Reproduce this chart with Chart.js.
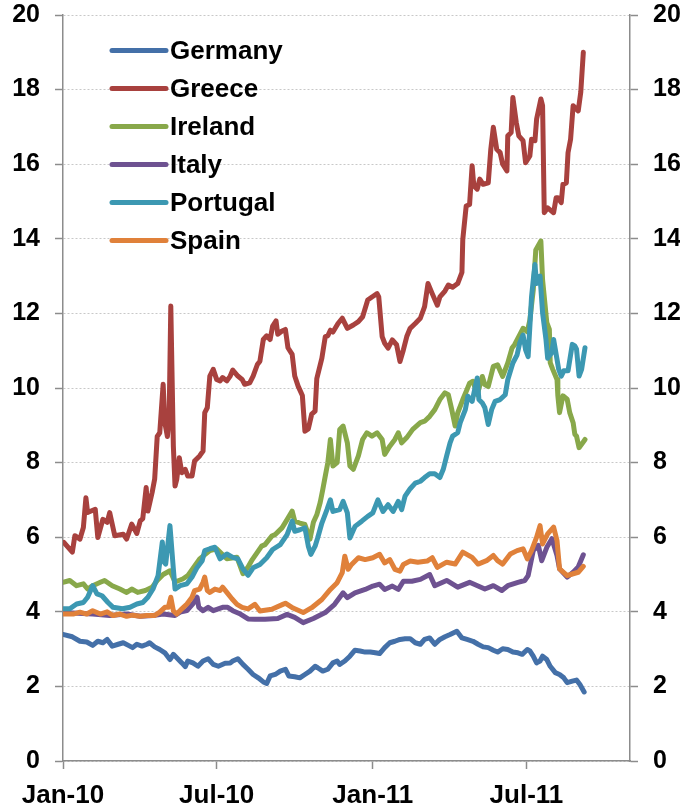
<!DOCTYPE html>
<html><head><meta charset="utf-8">
<script src="https://cdn.jsdelivr.net/npm/chart.js@4"></script>
<style>html,body{margin:0;padding:0;background:#fff}#wrap{width:680px;height:808px;position:relative}</style>
</head><body><div id="wrap"><canvas id="c" width="680" height="808"></canvas></div>
<script>
// x values are days since 1 Jan 2010
const seriesNames = ['Germany','Greece','Ireland','Italy','Portugal','Spain'];
const seriesColors = ['#4470a8','#a8413e','#88a84a','#6e5291','#3c98b2','#e0813a'];
const tickDays = [0,181,365,546];
const tickLabels = ['Jan-10','Jul-10','Jan-11','Jul-11'];

const germany = [[1,3.39],[11,3.33],[20,3.21],[28,3.19],[35,3.1],[41,3.21],[47,3.17],[52,3.26],[58,3.08],[65,3.13],[71,3.17],[77,3.1],[82,3.04],[87,3.13],[93,3.08],[99,3.13],[102,3.17],[108,3.06],[114,2.99],[120,2.9],[126,2.72],[130,2.86],[134,2.77],[140,2.63],[144,2.53],[147,2.68],[153,2.63],[159,2.54],[165,2.68],[171,2.74],[177,2.59],[183,2.54],[191,2.62],[197,2.63],[200,2.68],[206,2.74],[212,2.59],[218,2.46],[224,2.32],[230,2.23],[236,2.12],[240,2.08],[244,2.28],[250,2.32],[256,2.41],[262,2.46],[266,2.28],[273,2.26],[279,2.23],[285,2.32],[291,2.41],[297,2.54],[300,2.5],[306,2.41],[312,2.46],[318,2.63],[323,2.68],[326,2.59],[332,2.68],[338,2.81],[344,2.97],[350,2.95],[356,2.92],[362,2.92],[368,2.9],[373,2.88],[379,3.04],[385,3.17],[391,3.21],[397,3.26],[403,3.28],[409,3.28],[415,3.17],[421,3.13],[426,3.26],[432,3.3],[438,3.13],[444,3.26],[450,3.33],[456,3.39],[464,3.48],[470,3.3],[476,3.26],[483,3.21],[489,3.13],[495,3.06],[501,3.04],[507,2.97],[512,2.92],[518,3.01],[524,2.99],[530,2.92],[536,2.9],[541,2.86],[547,2.99],[550,2.95],[554,2.81],[558,2.63],[562,2.68],[565,2.81],[570,2.72],[574,2.54],[580,2.37],[585,2.32],[590,2.23],[594,2.1],[600,2.14],[605,2.17],[609,2.05],[614,1.85]];

const greece = [[1,5.86],[11,5.6],[14,6.04],[20,5.95],[24,6.26],[27,7.06],[29,6.66],[38,6.75],[41,5.99],[47,6.48],[52,6.4],[55,6.66],[61,6.04],[71,6.08],[75,5.95],[81,6.35],[87,6.1],[91,6.44],[94,6.5],[98,7.33],[100,6.7],[105,7.2],[108,7.56],[111,8.7],[114,8.8],[118,10.1],[120,9.07],[123,8.7],[125,9.16],[127,12.2],[130,8.45],[132,7.37],[134,7.55],[137,8.13],[140,7.73],[144,7.82],[147,7.64],[152,7.64],[155,8.04],[161,8.18],[165,8.31],[167,9.34],[170,9.47],[173,10.32],[177,10.5],[181,10.23],[185,10.19],[188,10.28],[193,10.19],[197,10.32],[200,10.48],[206,10.32],[211,10.23],[214,10.1],[220,10.14],[224,10.32],[229,10.63],[232,10.72],[236,11.3],[240,11.4],[244,11.3],[247,11.66],[251,11.8],[253,11.44],[258,11.53],[262,11.57],[265,11.08],[270,10.9],[273,10.32],[277,10.05],[282,9.8],[285,8.84],[289,8.9],[293,9.3],[297,9.38],[299,10.25],[305,10.8],[309,11.38],[312,11.4],[315,11.55],[318,11.5],[324,11.73],[329,11.87],[335,11.6],[342,11.69],[348,11.78],[353,11.91],[359,12.36],[364,12.44],[370,12.53],[372,12.44],[376,11.38],[379,11.2],[383,11.07],[388,11.29],[393,11.16],[397,10.71],[401,11.02],[405,11.38],[409,11.6],[415,11.73],[421,11.87],[426,12.18],[430,12.8],[435,12.53],[441,12.22],[444,12.44],[450,12.6],[454,12.76],[459,12.7],[465,12.8],[470,13.1],[471,13.98],[475,14.88],[479,14.92],[482,15.96],[484,15.42],[488,15.33],[491,15.6],[495,15.46],[501,15.5],[504,16.4],[507,16.99],[511,16.4],[515,16.31],[518,16.0],[523,15.82],[524,16.76],[528,16.85],[530,17.79],[534,17.12],[537,16.76],[542,16.63],[545,16.04],[550,16.22],[552,16.67],[556,16.63],[558,17.21],[563,17.75],[565,17.57],[567,14.7],[571,14.83],[578,14.7],[581,15.1],[583,15.1],[587,14.97],[589,15.46],[593,15.5],[595,16.31],[598,16.67],[601,17.57],[603,17.52],[607,17.43],[610,17.93],[613,19.0]];

const ireland = [[0,4.79],[8,4.84],[16,4.7],[24,4.75],[29,4.61],[35,4.7],[44,4.79],[49,4.84],[58,4.7],[67,4.61],[75,4.52],[81,4.61],[88,4.52],[97,4.57],[105,4.66],[111,4.84],[118,5.0],[126,5.1],[132,4.8],[141,4.88],[147,4.97],[161,5.42],[173,5.64],[181,5.69],[193,5.42],[205,5.46],[212,5.02],[218,5.2],[223,5.4],[234,5.76],[238,5.8],[246,6.03],[250,6.07],[258,6.25],[264,6.47],[270,6.7],[273,6.43],[279,6.38],[285,6.34],[291,5.95],[295,6.4],[299,6.6],[303,6.93],[306,7.27],[309,7.64],[312,8.0],[315,8.62],[318,7.91],[323,8.0],[326,8.89],[330,8.98],[335,8.53],[338,7.91],[342,7.82],[348,8.18],[353,8.62],[358,8.8],[364,8.71],[370,8.8],[376,8.62],[379,8.22],[385,8.44],[391,8.62],[395,8.8],[399,8.53],[405,8.67],[412,8.89],[421,9.07],[426,9.11],[432,9.24],[438,9.42],[444,9.69],[450,9.87],[454,9.82],[458,9.42],[462,8.98],[465,9.33],[471,9.69],[476,9.96],[479,10.13],[483,10.18],[488,9.82],[494,10.31],[497,10.09],[501,10.04],[507,10.58],[512,10.62],[518,10.31],[524,10.67],[529,11.07],[532,11.16],[538,11.42],[542,11.6],[547,11.51],[550,11.82],[554,12.62],[557,13.7],[563,13.94],[565,12.9],[570,11.75],[573,11.57],[574,10.68],[577,10.5],[582,10.23],[583,9.79],[585,9.34],[589,9.79],[594,9.7],[597,9.34],[601,9.07],[603,8.76],[605,8.71],[608,8.4],[611,8.49],[615,8.62]];

const italy = [[0,3.98],[35,3.94],[55,3.9],[75,3.94],[91,3.88],[106,3.9],[118,3.94],[132,3.9],[138,3.99],[146,4.03],[153,4.21],[158,4.39],[160,4.12],[165,4.03],[171,4.12],[177,4.03],[183,4.08],[188,4.12],[194,4.12],[200,4.03],[209,3.94],[218,3.81],[226,3.8],[238,3.8],[253,3.82],[264,3.93],[273,3.85],[283,3.71],[295,3.82],[309,3.98],[320,4.2],[330,4.51],[335,4.38],[344,4.51],[356,4.6],[365,4.69],[373,4.74],[379,4.6],[388,4.69],[395,4.6],[401,4.82],[411,4.82],[421,4.87],[432,5.0],[438,4.7],[452,4.84],[465,4.66],[479,4.79],[497,4.61],[507,4.7],[517,4.57],[524,4.7],[536,4.79],[544,4.84],[548,4.97],[554,5.64],[560,5.78],[564,5.37],[570,5.73],[576,5.96],[582,5.51],[585,5.15],[594,4.93],[601,5.06],[607,5.2],[613,5.53]];

const portugal = [[0,4.08],[8,4.08],[16,4.21],[24,4.25],[29,4.39],[35,4.7],[40,4.48],[46,4.43],[53,4.25],[59,4.12],[70,4.08],[79,4.12],[87,4.21],[94,4.25],[100,4.39],[106,4.61],[112,4.97],[117,5.87],[119,5.33],[121,5.28],[126,6.31],[130,5.15],[132,4.61],[138,4.7],[146,4.75],[152,4.93],[158,5.19],[164,5.37],[167,5.64],[173,5.69],[179,5.73],[185,5.42],[193,5.55],[200,5.46],[206,5.42],[212,5.15],[218,4.98],[224,5.18],[232,5.27],[240,5.45],[247,5.67],[256,5.8],[264,6.07],[270,6.43],[273,6.16],[279,6.2],[285,6.25],[289,5.76],[292,5.54],[297,5.76],[300,5.98],[305,6.38],[311,6.74],[315,7.0],[318,6.69],[326,6.74],[330,6.96],[335,6.65],[338,5.98],[344,6.29],[352,6.43],[359,6.56],[365,6.65],[371,7.0],[377,6.69],[383,6.87],[389,6.69],[395,6.96],[399,6.74],[403,7.1],[409,7.3],[415,7.45],[421,7.5],[426,7.6],[432,7.7],[438,7.7],[444,7.6],[448,7.82],[452,8.18],[456,8.53],[459,8.71],[465,8.8],[468,9.07],[474,9.42],[477,9.78],[482,9.64],[485,9.96],[488,10.27],[490,9.69],[494,9.6],[497,9.47],[501,9.02],[505,9.42],[509,9.64],[515,9.69],[521,9.82],[524,10.22],[530,10.67],[535,10.89],[538,11.2],[542,11.42],[545,11.02],[548,10.84],[552,12.44],[554,12.89],[556,13.31],[558,12.8],[562,13.0],[565,12.02],[569,11.3],[571,10.8],[576,10.95],[578,11.3],[582,10.77],[584,10.5],[587,10.32],[590,10.46],[595,10.46],[600,11.17],[603,11.13],[605,11.04],[608,10.32],[611,10.5],[615,11.08]];

const spain = [[0,3.94],[12,3.94],[20,3.99],[28,3.94],[35,4.03],[44,3.94],[52,4.0],[59,3.9],[67,3.94],[75,3.88],[82,3.91],[91,3.88],[99,3.9],[108,3.9],[114,3.99],[120,4.12],[124,4.12],[127,4.39],[130,4.03],[134,3.94],[140,4.08],[146,4.21],[152,4.39],[155,4.57],[161,4.61],[165,4.79],[167,4.93],[170,4.57],[173,4.52],[179,4.61],[185,4.57],[188,4.66],[193,4.52],[199,4.35],[205,4.2],[211,4.12],[218,4.08],[226,4.2],[232,4.02],[246,4.07],[259,4.2],[262,4.23],[271,4.1],[283,3.98],[293,4.11],[305,4.33],[315,4.6],[323,4.78],[329,5.05],[332,5.49],[336,5.14],[340,5.27],[348,5.45],[356,5.4],[365,5.45],[373,5.54],[379,5.31],[385,5.4],[391,5.14],[397,5.09],[401,5.27],[409,5.36],[418,5.33],[429,5.36],[435,5.45],[441,5.19],[452,5.33],[462,5.28],[471,5.6],[482,5.46],[489,5.28],[499,5.37],[507,5.51],[512,5.37],[518,5.28],[527,5.55],[535,5.64],[542,5.69],[547,5.42],[552,5.64],[558,6.0],[562,6.31],[565,5.82],[571,6.09],[578,6.27],[582,5.91],[585,5.15],[594,4.97],[601,5.02],[607,5.06],[613,5.22]];

const seriesData = [germany, greece, ireland, italy, portugal, spain];

const FONT = '"Liberation Sans", Arial, sans-serif';
const AXIS = '#8c8c8c';

const insideLegend = {
  id: 'insideLegend',
  afterDraw(chart) {
    const ctx = chart.ctx, a = chart.chartArea;
    ctx.save();
    chart.data.datasets.forEach((ds, i) => {
      const y = a.top + 35.5 + i * 38;
      ctx.strokeStyle = ds.borderColor;
      ctx.lineWidth = 5;
      ctx.lineCap = 'round';
      ctx.beginPath();
      ctx.moveTo(a.left + 49, y);
      ctx.lineTo(a.left + 103, y);
      ctx.stroke();
      ctx.fillStyle = '#000';
      ctx.font = 'bold 26px ' + FONT;
      ctx.textBaseline = 'middle';
      ctx.textAlign = 'left';
      ctx.fillText(ds.label, a.left + 107, y + 1);
    });
    ctx.restore();
  }
};

const yFont = { family: FONT, size: 25, weight: 'bold' };
const xFont = { family: FONT, size: 26, weight: 'bold' };

new Chart(document.getElementById('c'), {
  type: 'line',
  data: {
    datasets: seriesNames.map((name, i) => ({
      label: name,
      data: seriesData[i].map(p => ({ x: p[0], y: p[1] })),
      borderColor: seriesColors[i],
      backgroundColor: seriesColors[i],
      borderWidth: 5,
      borderJoinStyle: 'round',
      borderCapStyle: 'round',
      pointRadius: 0,
      tension: 0,
      fill: false,
      order: seriesNames.length - i
    }))
  },
  options: {
    responsive: false,
    animation: false,
    devicePixelRatio: 1,
    layout: { padding: { top: 15, left: 0, right: 0, bottom: 0 } },
    plugins: { legend: { display: false }, tooltip: { enabled: false } },
    scales: {
      x: {
        type: 'linear', min: 0, max: 668,
        afterBuildTicks(s) { s.ticks = tickDays.map(v => ({ value: v })); },
        ticks: {
          autoSkip: false, maxRotation: 0, minRotation: 0, color: '#000', font: xFont, padding: 11,
          callback: (v) => { const k = tickDays.indexOf(v); return k >= 0 ? tickLabels[k] : ''; }
        },
        grid: { drawOnChartArea: false, drawTicks: true, tickLength: 8, tickColor: AXIS, tickWidth: 1.5 },
        border: { color: AXIS, width: 1.5 },
        afterFit(s) { s.height = 47; s.paddingLeft = 0; s.paddingRight = 0; }
      },
      y: {
        position: 'left', min: 0, max: 20,
        ticks: { stepSize: 2, color: '#000', font: yFont, padding: 15 },
        grid: { color: '#c8c8c8', lineWidth: 1, tickLength: 8, tickColor: AXIS, tickWidth: 1.5, tickBorderDash: [] },
        border: { color: AXIS, width: 1.5, dash: [2, 2] },
        afterFit(s) { s.width = 63; s.paddingTop = 0; s.paddingBottom = 0; }
      },
      y2: {
        position: 'right', min: 0, max: 20,
        ticks: { stepSize: 2, color: '#000', font: yFont, padding: 15 },
        grid: { drawOnChartArea: false, tickLength: 8, tickColor: AXIS, tickWidth: 1.5, tickBorderDash: [] },
        border: { color: AXIS, width: 1.5 },
        afterFit(s) { s.width = 50; s.paddingTop = 0; s.paddingBottom = 0; }
      }
    }
  },
  plugins: [insideLegend]
});
</script>
</body></html>
